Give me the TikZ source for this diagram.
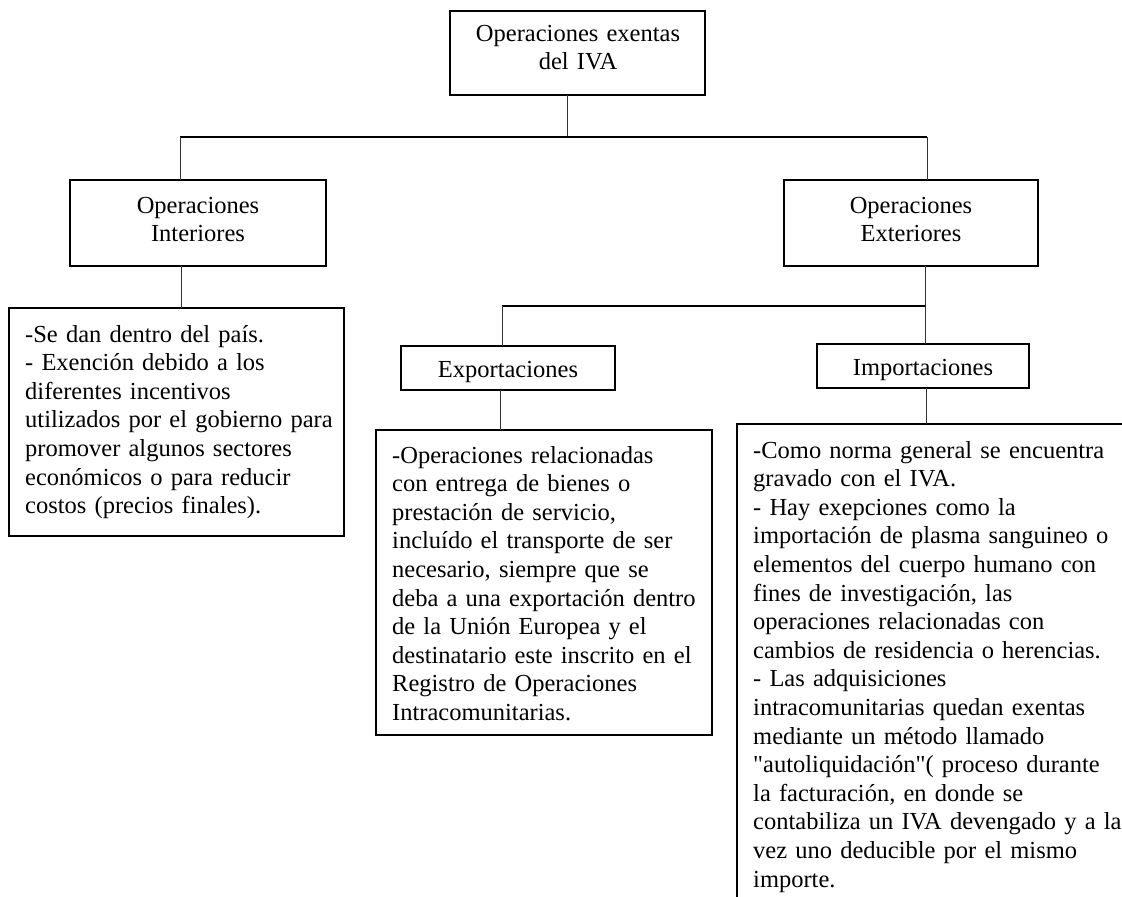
\documentclass[tikz,border=0pt]{standalone}
\usepackage{fontspec}
\setmainfont{Liberation Serif}[WordSpace=0.88]
\newfontfamily\plainq{Liberation Serif}
\begin{document}
\begin{tikzpicture}[x=1pt,y=-1pt,
  box/.style={draw, line width=1.7pt, rectangle, inner sep=0pt, outer sep=0pt, anchor=north west},
  txt/.style={inner sep=0pt, font=\fontsize{24.5}{28.6}\selectfont},
  ctxt/.style={txt, align=center, text width=320pt, anchor=base},
  para/.style={txt, align=left, text width=420pt, anchor=base west},
  link/.style={line width=1pt, draw=black!80},
  hline/.style={line width=1.3pt, draw=black}]
\useasboundingbox (0,0) rectangle (1122,897);
\clip (0,0) rectangle (1122,897);
\fill[white] (0,0) rectangle (1122,897);

% boxes
\node[box, minimum width=255pt, minimum height=84pt] (root) at (450,11) {};
\node[box, minimum width=256pt, minimum height=86pt] (int) at (70,180) {};
\node[box, minimum width=254pt, minimum height=86pt] (ext) at (784,180) {};
\node[box, minimum width=335pt, minimum height=228pt] (leftbox) at (9,308) {};
\node[box, minimum width=214pt, minimum height=44pt] (exp) at (401,346) {};
\node[box, minimum width=212pt, minimum height=44pt] (imp) at (817,344) {};
\node[box, minimum width=336pt, minimum height=305pt] (expbox) at (376,430) {};
\node[box, minimum width=420pt, minimum height=500pt] (impbox) at (737,424) {};

% texts
\node[ctxt] (root-t) at (578,41) {Operaciones exentas\\del IVA};
\node[ctxt] (int-t) at (198,213) {Operaciones\\Interiores};
\node[ctxt] (ext-t) at (911,213) {Operaciones\\Exteriores};
\node[ctxt] (exp-t) at (508,377) {Exportaciones};
\node[ctxt] (imp-t) at (923,375) {Importaciones};
\node[para] (leftbox-t) at (25,342) {-Se dan dentro del país.\\
- Exención debido a los\\
diferentes incentivos\\
utilizados por el gobierno para\\
promover algunos sectores\\
económicos o para reducir\\
costos (precios finales).};
\node[para] (expbox-t) at (392,463) {-Operaciones relacionadas\\
con entrega de bienes o\\
prestación de servicio,\\
incluído el transporte de ser\\
necesario, siempre que se\\
deba a una exportación dentro\\
de la Unión Europea y el\\
destinatario este inscrito en el\\
Registro de Operaciones\\
Intracomunitarias.};
\node[para] (impbox-t) at (753,458) {-Como norma general se encuentra\\
gravado con el IVA.\\
- Hay exepciones como la\\
importación de plasma sanguineo o\\
elementos del cuerpo humano con\\
fines de investigación, las\\
operaciones relacionadas con\\
cambios de residencia o herencias.\\
- Las adquisiciones\\
intracomunitarias quedan exentas\\
mediante un método llamado\\
{\plainq"}autoliquidación{\plainq"}( proceso durante\\
la facturación, en donde se\\
contabiliza un IVA devengado y a la\\
vez uno deducible por el mismo\\
importe.};

% junctions
\coordinate (j0) at (567,137);
\coordinate (jl) at (180,137);
\coordinate (jr) at (927,137);
\coordinate (ja) at (181,300);
\coordinate (jb) at (925,306);
\coordinate (jc) at (502,306);
\coordinate (jd) at (500,400);
\coordinate (je) at (926,400);

% connectors
\draw[link] (root.south -| j0) -- (j0);
\draw[hline] (jl) -- (jr);
\draw[link] (jl) -- (int.north -| jl);
\draw[link] (jr) -- (ext.north -| jr);
\draw[link] (int.south -| ja) -- (leftbox.north -| ja);
\draw[link] (ext.south -| jb) -- (imp.north -| jb);
\draw[hline] (jc) -- (jb);
\draw[link] (jc) -- (exp.north -| jc);
\draw[link] (exp.south -| jd) -- (expbox.north -| jd);
\draw[link] (imp.south -| je) -- (impbox.north -| je);
\end{tikzpicture}
\end{document}
